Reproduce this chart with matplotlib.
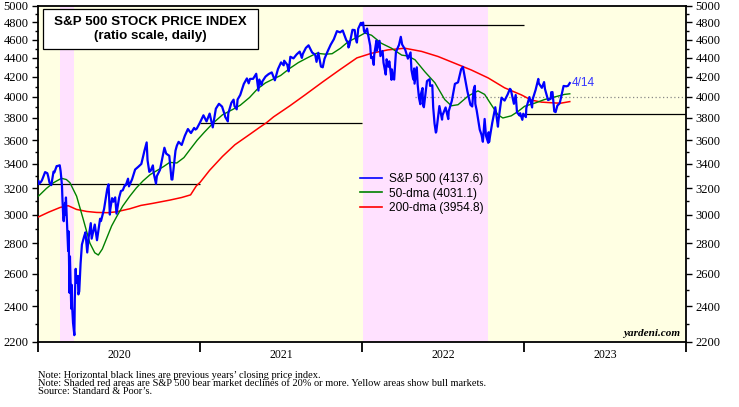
import matplotlib
matplotlib.use("Agg")
import matplotlib.pyplot as plt
import pandas as pd
from matplotlib.ticker import NullFormatter
from matplotlib.lines import Line2D
from matplotlib.patches import Rectangle

# ---------------- data ----------------
spx_dates = [
"2020-01-02","2020-01-03","2020-01-08","2020-01-10","2020-01-17","2020-01-22","2020-01-24","2020-01-27","2020-01-31",
"2020-02-05","2020-02-07","2020-02-12","2020-02-14","2020-02-19","2020-02-21","2020-02-24","2020-02-25","2020-02-27","2020-02-28",
"2020-03-02","2020-03-03","2020-03-04","2020-03-06","2020-03-09","2020-03-10","2020-03-12","2020-03-13","2020-03-16","2020-03-17",
"2020-03-18","2020-03-20","2020-03-23","2020-03-24","2020-03-26","2020-03-27","2020-03-31","2020-04-01","2020-04-03","2020-04-06",
"2020-04-09","2020-04-14","2020-04-17","2020-04-21","2020-04-24","2020-04-29","2020-05-01","2020-05-08","2020-05-13","2020-05-15",
"2020-05-20","2020-05-22","2020-05-29","2020-06-05","2020-06-08","2020-06-11","2020-06-12","2020-06-16","2020-06-19","2020-06-23",
"2020-06-26","2020-07-02","2020-07-06","2020-07-10","2020-07-15","2020-07-17","2020-07-22","2020-07-24","2020-07-31","2020-08-07",
"2020-08-14","2020-08-21","2020-08-28","2020-09-02","2020-09-04","2020-09-08","2020-09-11","2020-09-16","2020-09-18","2020-09-23",
"2020-09-25","2020-10-02","2020-10-09","2020-10-12","2020-10-16","2020-10-23","2020-10-28","2020-10-30","2020-11-04","2020-11-06",
"2020-11-09","2020-11-13","2020-11-20","2020-11-27","2020-12-04","2020-12-09","2020-12-11","2020-12-18","2020-12-21","2020-12-24",
"2020-12-31",
"2021-01-08","2021-01-15","2021-01-22","2021-01-27","2021-01-29","2021-02-05","2021-02-12","2021-02-19","2021-02-25","2021-02-26",
"2021-03-04","2021-03-05","2021-03-12","2021-03-17","2021-03-19","2021-03-24","2021-03-26","2021-04-01","2021-04-09","2021-04-16",
"2021-04-20","2021-04-23","2021-04-30","2021-05-07","2021-05-12","2021-05-14","2021-05-19","2021-05-21","2021-05-28","2021-06-04",
"2021-06-11","2021-06-18","2021-06-25","2021-07-02","2021-07-08","2021-07-09","2021-07-16","2021-07-19","2021-07-23","2021-07-30",
"2021-08-06","2021-08-13","2021-08-18","2021-08-20","2021-08-27","2021-09-02","2021-09-10","2021-09-17","2021-09-20","2021-09-24",
"2021-09-30","2021-10-04","2021-10-08","2021-10-15","2021-10-22","2021-10-29","2021-11-05","2021-11-12","2021-11-18","2021-11-26",
"2021-11-30","2021-12-01","2021-12-03","2021-12-10","2021-12-15","2021-12-17","2021-12-20","2021-12-23","2021-12-29","2021-12-31",
"2022-01-03","2022-01-05","2022-01-07","2022-01-12","2022-01-14","2022-01-19","2022-01-21","2022-01-24","2022-01-27","2022-01-28",
"2022-02-02","2022-02-03","2022-02-04","2022-02-09","2022-02-11","2022-02-16","2022-02-18","2022-02-23","2022-02-24","2022-02-25",
"2022-03-01","2022-03-03","2022-03-04","2022-03-08","2022-03-09","2022-03-11","2022-03-14","2022-03-18","2022-03-25","2022-03-29",
"2022-04-01","2022-04-08","2022-04-14","2022-04-20","2022-04-22","2022-04-26","2022-04-28","2022-04-29","2022-05-04","2022-05-06",
"2022-05-09","2022-05-12","2022-05-13","2022-05-17","2022-05-18","2022-05-20","2022-05-27","2022-06-02","2022-06-03","2022-06-08",
"2022-06-10","2022-06-13","2022-06-16","2022-06-17","2022-06-24","2022-06-30","2022-07-01","2022-07-08","2022-07-14","2022-07-15",
"2022-07-22","2022-07-29","2022-08-05","2022-08-12","2022-08-16","2022-08-19","2022-08-26","2022-09-02","2022-09-06","2022-09-09",
"2022-09-12","2022-09-13","2022-09-16","2022-09-23","2022-09-27","2022-09-30","2022-10-04","2022-10-07","2022-10-12","2022-10-13",
"2022-10-14","2022-10-21","2022-10-28","2022-11-03","2022-11-04","2022-11-10","2022-11-11","2022-11-18","2022-11-25","2022-11-30",
"2022-12-02","2022-12-09","2022-12-13","2022-12-16","2022-12-22","2022-12-23","2022-12-28","2022-12-30",
"2023-01-05","2023-01-06","2023-01-13","2023-01-19","2023-01-20","2023-01-27","2023-02-02","2023-02-03","2023-02-10","2023-02-15",
"2023-02-17","2023-02-24","2023-03-02","2023-03-03","2023-03-06","2023-03-10","2023-03-13","2023-03-17","2023-03-22","2023-03-24",
"2023-03-31","2023-04-06","2023-04-10","2023-04-14",
]
spx_values = [
3258,3235,3253,3265,3330,3321,3295,3244,3226,
3334,3328,3379,3380,3386,3338,3226,3128,2979,2954,
3090,3003,3130,2972,2747,2882,2481,2711,2386,2529,
2398,2305,2237,2447,2630,2541,2585,2471,2489,2664,
2790,2846,2875,2737,2837,2940,2831,2930,2820,2864,
2972,2955,3044,3194,3232,3002,3041,3125,3098,3131,
3009,3130,3180,3185,3227,3225,3277,3216,3271,3351,
3373,3397,3508,3580,3427,3332,3341,3385,3319,3237,
3298,3348,3477,3534,3484,3465,3271,3270,3444,3509,
3551,3585,3558,3638,3699,3672,3663,3709,3694,3703,
3756,
3825,3768,3841,3750,3714,3887,3934,3907,3829,3811,
3768,3842,3943,3974,3913,3881,3975,4020,4129,4185,
4135,4180,4181,4233,4063,4174,4116,4156,4204,4230,
4247,4166,4281,4352,4321,4370,4327,4258,4412,4395,
4437,4468,4400,4442,4509,4537,4459,4433,4358,4455,
4308,4300,4391,4471,4545,4605,4697,4683,4704,4595,
4567,4513,4538,4712,4709,4620,4568,4725,4793,4766,
4797,4700,4677,4726,4663,4533,4398,4410,4326,4432,
4589,4477,4501,4587,4419,4475,4349,4225,4289,4385,
4306,4363,4329,4171,4278,4204,4173,4463,4543,4632,
4546,4488,4392,4459,4272,4175,4288,4132,4300,4123,
3991,3930,4024,4088,3923,3901,4158,4177,4109,4116,
3901,3750,3667,3675,3912,3785,3825,3899,3790,3863,
3962,4130,4145,4280,4305,4228,4058,3924,3908,4067,
4110,3933,3873,3693,3647,3586,3791,3640,3577,3670,
3583,3752,3901,3720,3771,3956,3993,3965,4026,4080,
4072,3934,4019,3852,3822,3845,3783,3840,
3808,3895,3999,3899,3973,4071,4180,4136,4090,4148,
4079,3970,3982,4046,4048,3862,3855,3917,3937,3971,
4109,4105,4110,4138,
]

ma50_dates = [
"2020-01-02","2020-01-20","2020-02-05","2020-02-23","2020-03-05","2020-03-13","2020-03-28","2020-04-12","2020-04-27","2020-05-08",
"2020-05-16","2020-05-25","2020-06-04","2020-06-15","2020-06-26","2020-07-10","2020-07-26","2020-08-10","2020-08-25","2020-09-10",
"2020-09-24","2020-10-10","2020-10-24","2020-11-09","2020-11-25","2020-12-08","2020-12-25","2021-01-10","2021-01-29","2021-02-20",
"2021-03-15","2021-04-01","2021-04-22","2021-05-10","2021-05-28","2021-06-15","2021-07-01","2021-07-22","2021-08-10","2021-08-30",
"2021-09-20","2021-10-10","2021-10-25","2021-11-13","2021-12-01","2021-12-20","2022-01-07","2022-01-22","2022-02-13","2022-03-08",
"2022-03-31","2022-04-14","2022-04-30","2022-05-22","2022-06-14","2022-07-06","2022-07-21","2022-08-05","2022-08-28","2022-09-19",
"2022-10-04","2022-10-19","2022-11-03","2022-11-14","2022-12-03","2022-12-18","2023-01-02","2023-01-25","2023-02-16","2023-03-11",
"2023-04-02","2023-04-14",
]
ma50_values = [
3140,3200,3245,3280,3270,3245,3140,2968,2800,2735,
2720,2760,2835,2920,2985,3065,3140,3205,3260,3310,
3340,3375,3410,3405,3450,3515,3600,3670,3750,3830,
3880,3920,3995,4080,4140,4180,4215,4290,4350,4400,
4450,4440,4445,4505,4580,4625,4675,4650,4560,4505,
4430,4420,4380,4255,4140,3975,3915,3925,4010,4060,
4025,3925,3830,3800,3820,3860,3910,3940,3975,4000,
4025,4031,
]

ma200_dates = [
"2020-01-02","2020-01-25","2020-02-20","2020-03-09","2020-03-28","2020-04-20","2020-05-12","2020-06-05","2020-06-25","2020-07-26",
"2020-08-20","2020-09-15","2020-10-24","2020-11-20","2020-12-10","2020-12-23","2021-01-01","2021-01-22","2021-02-20","2021-03-20",
"2021-04-22","2021-05-15","2021-05-30","2021-06-15","2021-07-22","2021-08-25","2021-10-04","2021-11-10","2021-12-20","2022-01-22",
"2022-02-28","2022-04-07","2022-05-15","2022-06-21","2022-07-29","2022-09-04","2022-10-12","2022-11-18","2022-12-26","2023-01-17",
"2023-02-09","2023-03-11","2023-03-25","2023-04-14",
]
ma200_values = [
2985,3020,3055,3068,3040,3025,3018,3016,3022,3045,
3070,3085,3110,3130,3150,3220,3250,3345,3460,3560,
3650,3715,3756,3810,3915,4020,4150,4270,4400,4450,
4487,4505,4470,4415,4342,4272,4190,4090,4020,3970,
3950,3942,3940,3955,
]

prev_close_years = [2020, 2021, 2022, 2023]
prev_close_values = [3230.78, 3756.07, 4766.18, 3839.50]

bear_starts = ["2020-02-19", "2022-01-03"]
bear_ends = ["2020-03-23", "2022-10-12"]

y_ticks = list(range(2200, 5001, 200))
y_minor = list(range(2300, 5000, 200))
year_labels = ["2020", "2021", "2022", "2023"]

legend_labels = ["S&P 500 (4137.6)", "50-dma (4031.1)", "200-dma (3954.8)"]
last_label = "4/14"

footnotes = [
    "Note: Horizontal black lines are previous years\u2019 closing price index.",
    "Note: Shaded red areas are S&P 500 bear market declines of 20% or more. Yellow areas show bull markets.",
    "Source: Standard & Poor\u2019s.",
]

# ---------------- figure ----------------
W, H = 739, 407
fig = plt.figure(figsize=(W / 100, H / 100), dpi=100)
fig.patch.set_facecolor("white")

def fx(px):
    return px / W

def fy(py):
    return 1 - py / H

ax_l, ax_r, ax_t, ax_b = 38, 686, 5.5, 342
ax = fig.add_axes([fx(ax_l), fy(ax_b), fx(ax_r - ax_l), (ax_b - ax_t) / H])
ax.set_facecolor("#FFFFE3")

serif = "Liberation Serif"
sans = "Liberation Sans"

d_spx = pd.to_datetime(spx_dates)
d50 = pd.to_datetime(ma50_dates)
d200 = pd.to_datetime(ma200_dates)

for s, e in zip(bear_starts, bear_ends):
    ax.axvspan(pd.Timestamp(s), pd.Timestamp(e), color="#FFE1FF", lw=0, zorder=0.5)

for yr, v in zip(prev_close_years, prev_close_values):
    ax.hlines(v, pd.Timestamp(f"{yr}-01-01"), pd.Timestamp(f"{yr+1}-01-01"),
              color="black", lw=0.9, zorder=2)

ax.hlines(4000, pd.Timestamp("2022-04-30"), pd.Timestamp("2024-01-01"),
          color="#888888", lw=0.9, linestyles=(0, (1, 2)), zorder=1.5)

ax.plot(d200, ma200_values, color="#FF0000", lw=1.1, zorder=3)
ax.plot(d50, ma50_values, color="#008000", lw=1.0, zorder=3.5)
ax.plot(d_spx, spx_values, color="#0000FF", lw=1.6, zorder=4)

ax.set_yscale("log")
ax.set_ylim(2200, 5000)
ax.set_xlim(pd.Timestamp("2020-01-01"), pd.Timestamp("2024-01-01"))

ax.set_yticks(y_ticks, labels=[str(t) for t in y_ticks])
ax.set_yticks(y_minor, minor=True)
ax.yaxis.set_minor_formatter(NullFormatter())
ax.tick_params(axis="y", which="both", direction="out", left=True, right=True,
               labelleft=True, labelright=True, labelsize=9, width=1.0, pad=2.5)
ax.tick_params(axis="y", which="major", length=4.5)
ax.tick_params(axis="y", which="minor", length=2.5)
for lab in ax.get_yticklabels():
    lab.set_fontfamily(serif)

year_starts = [pd.Timestamp(f"{y}-01-01") for y in range(2020, 2025)]
ax.set_xticks(year_starts, labels=[""] * len(year_starts))
mids = [pd.Timestamp(f"{y}-07-02") for y in range(2020, 2024)]
ax.set_xticks(mids, labels=year_labels, minor=True)
ax.tick_params(axis="x", which="major", direction="out", length=7.5, width=1.3, bottom=True, top=False)
ax.tick_params(axis="x", which="minor", length=0, pad=5, labelsize=8.5)
for lab in ax.get_xticklabels(minor=True):
    lab.set_fontfamily(serif)

for sp in ax.spines.values():
    sp.set_linewidth(1.3)
    sp.set_color("black")

# title box
rect = Rectangle((fx(43), fy(49)), fx(258 - 43), (49 - 9) / H, transform=fig.transFigure,
                 facecolor="white", edgecolor="black", lw=0.9, zorder=10)
fig.patches.append(rect)
fig.text(fx(150), fy(22), "S&P 500 STOCK PRICE INDEX", ha="center", va="center",
         fontsize=9.6, fontweight="bold", family=sans, zorder=11)
fig.text(fx(150), fy(36), "(ratio scale, daily)", ha="center", va="center",
         fontsize=9.6, fontweight="bold", family=sans, zorder=11)

# legend
handles = [Line2D([], [], color="#0000FF", lw=1.2),
           Line2D([], [], color="#008000", lw=1.2),
           Line2D([], [], color="#FF0000", lw=1.2)]
leg = fig.legend(handles, legend_labels, loc="upper left", bbox_to_anchor=(fx(360), fy(173.5)),
                 frameon=False, prop={"family": sans, "size": 8.6}, handlelength=1.8,
                 handletextpad=0.6, labelspacing=0.18, borderpad=0, borderaxespad=0)

ax.text(pd.Timestamp("2023-04-19"), 4142, last_label, color="#3333FF", fontsize=8.5,
        family=sans, ha="left", va="center", zorder=6)

fig.text(fx(680), fy(334), "yardeni.com", ha="right", va="center", fontsize=8,
         fontweight="bold", fontstyle="italic", family=serif)

for i, t in enumerate(footnotes):
    fig.text(fx(38), fy(375 + i * 8.4), t, ha="left", va="center", fontsize=7.45, family=serif)

fig.savefig("out.png", dpi=100)
